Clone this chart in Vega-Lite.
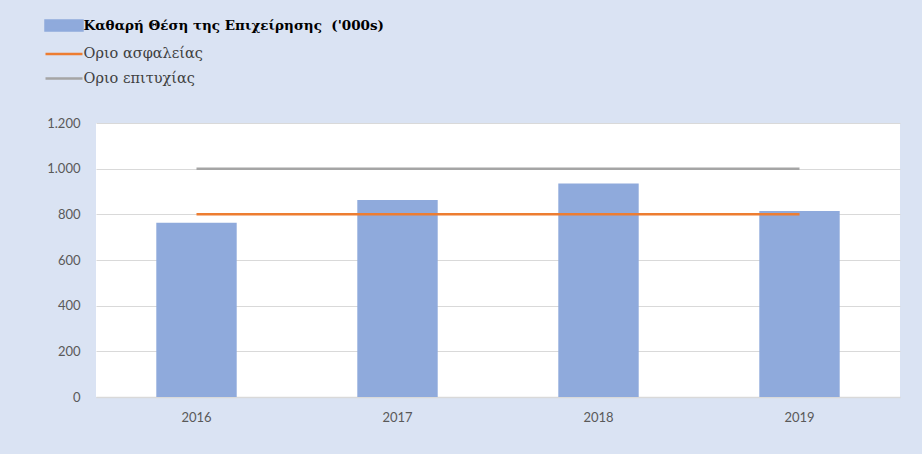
{
  "$schema": "https://vega.github.io/schema/vega-lite/v6.json",
  "width": 804,
  "height": 274,
  "autosize": {"type": "none"},
  "padding": {"left": 96, "top": 123, "right": 22, "bottom": 57},
  "background": "#dae3f3",
  "config": {"view": {"stroke": null, "fill": "white"}},
  "data": {"values": [
    {"year": "2016", "series": "Καθαρή Θέση της Επιχείρησης \u00a0('000s)", "kind": "bar", "value": 763},
    {"year": "2017", "series": "Καθαρή Θέση της Επιχείρησης \u00a0('000s)", "kind": "bar", "value": 863},
    {"year": "2018", "series": "Καθαρή Θέση της Επιχείρησης \u00a0('000s)", "kind": "bar", "value": 935},
    {"year": "2019", "series": "Καθαρή Θέση της Επιχείρησης \u00a0('000s)", "kind": "bar", "value": 815},
    {"year": "2016", "series": "Οριο ασφαλείας", "kind": "line", "value": 800},
    {"year": "2017", "series": "Οριο ασφαλείας", "kind": "line", "value": 800},
    {"year": "2018", "series": "Οριο ασφαλείας", "kind": "line", "value": 800},
    {"year": "2019", "series": "Οριο ασφαλείας", "kind": "line", "value": 800},
    {"year": "2016", "series": "Οριο επιτυχίας", "kind": "line", "value": 1000},
    {"year": "2017", "series": "Οριο επιτυχίας", "kind": "line", "value": 1000},
    {"year": "2018", "series": "Οριο επιτυχίας", "kind": "line", "value": 1000},
    {"year": "2019", "series": "Οριο επιτυχίας", "kind": "line", "value": 1000}
  ]},
  "encoding": {
    "x": {
      "field": "year", "type": "nominal", "sort": null,
      "scale": {"paddingInner": 0.6, "paddingOuter": 0.3},
      "axis": {"title": null, "labelAngle": 0, "ticks": false, "domainColor": "#d9d9d9", "domainWidth": 1.5,
               "labelFont": "Lato", "labelFontSize": 13, "labelColor": "#595959", "labelPadding": 14}
    },
    "y": {
      "field": "value", "type": "quantitative",
      "scale": {"domain": [0, 1200], "nice": false},
      "axis": {"title": null, "values": [0, 200, 400, 600, 800, 1000, 1200], "ticks": false, "domain": false,
               "gridColor": "#d9d9d9", "gridWidth": 1,
               "labelExpr": "replace(format(datum.value, ','), ',', '.')",
               "labelFont": "Lato", "labelFontSize": 13, "labelColor": "#595959", "labelPadding": 16}
    },
    "color": {
      "field": "series", "type": "nominal",
      "scale": {
        "domain": ["Καθαρή Θέση της Επιχείρησης \u00a0('000s)", "Οριο ασφαλείας", "Οριο επιτυχίας"],
        "range": ["#8faadc", "#ed7d31", "#a5a5a5"]
      },
      "legend": {
        "title": null, "orient": "none", "legendX": -43.5, "legendY": -109, "direction": "vertical",
        "padding": 0, "rowPadding": 6.5, "symbolSize": 400, "labelOffset": 8,
        "labelFont": "DejaVu Serif", "labelFontSize": 14.5, "labelLimit": 500,
        "encode": {
          "symbols": {"update": {
            "shape": {"signal": "datum.index == 0 ? 'M-1.85,-0.5H1.85V0.5H-1.85Z' : 'M-1.85,0H1.85'"},
            "fill": {"signal": "datum.index == 0 ? '#8faadc' : 'transparent'"},
            "stroke": {"signal": "datum.index == 1 ? '#ed7d31' : datum.index == 2 ? '#a5a5a5' : 'transparent'"},
            "strokeWidth": {"value": 2.5},
            "opacity": {"value": 1}
          }},
          "labels": {"update": {
            "fontWeight": {"signal": "datum.index == 0 ? 'bold' : 'normal'"},
            "fontSize": {"signal": "datum.index == 0 ? 13.5 : 14.5"},
            "fill": {"signal": "datum.index == 0 ? '#000000' : '#404040'"}
          }}
        }
      }
    }
  },
  "layer": [
    {"transform": [{"filter": "datum.kind == 'bar'"}], "mark": {"type": "bar"}},
    {"transform": [{"filter": "datum.kind == 'line'"}], "mark": {"type": "line", "strokeWidth": 2.5}}
  ]
}
